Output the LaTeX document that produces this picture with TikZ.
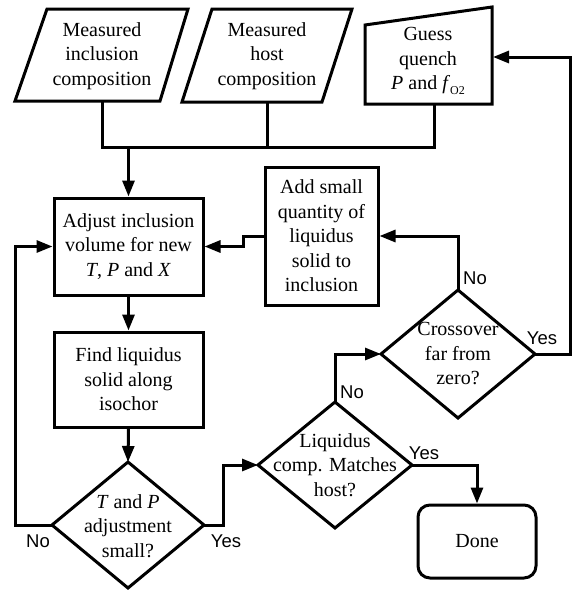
\documentclass[tikz,border=0pt]{standalone}
\usepackage{fontspec}
\setmainfont{Liberation Serif}
\newfontfamily\labelfont{Liberation Sans}
\usetikzlibrary{arrows.meta}
\begin{document}
\begin{tikzpicture}[x=1pt,y=-1pt, line width=3pt, line join=miter,
  txt/.style={align=center, font=\fontsize{20}{24.5}\selectfont, inner sep=0pt},
  box/.style={draw, line width=3pt, align=center, font=\fontsize{20}{24.5}\selectfont, inner sep=0pt},
  lbl/.style={font=\labelfont\fontsize{18.5}{20}\selectfont, inner sep=0pt},
  shp/.style={draw, line width=3pt},
  conn/.style={draw, line width=3pt},
  arr/.style={conn, -{Triangle[length=16pt,width=12pt]}}]
\useasboundingbox (0,0) rectangle (572,590);

% input shapes
\draw[shp] (47,9) -- (188,9) -- (160,101) -- (15,101) -- cycle;
\node[txt] (meas1) at (102,56) {Measured\\inclusion\\composition};
\draw[shp] (212,9) -- (352,9) -- (322,102) -- (182,102) -- cycle;
\node[txt] (meas2) at (267,56) {Measured\\host\\composition};
\draw[shp] (365,25) -- (492,7) -- (492,104) -- (365,104) -- cycle;
\node[txt] (guess) at (428,61) {Guess\\quench\\\textit{P} and \textit{f}\raisebox{-0.5ex}{\fontsize{12}{12}\selectfont O2}};

% process boxes
\node[box, minimum width=149pt, minimum height=97pt] (adj) at (128.5,246.5) {Adjust inclusion\\volume for new\\\textit{T}, \textit{P} and \textit{X}};
\node[box, minimum width=149pt, minimum height=95pt] (find) at (128.5,379.5) {Find liquidus\\solid along\\isochor};
\node[box, minimum width=113pt, minimum height=138pt] (add) at (321.5,236) {Add small\\quantity of\\liquidus\\solid to\\inclusion};
\node[box, rounded corners=12pt, minimum width=118pt, minimum height=73pt] (done) at (477,541.5) {Done};

% decisions
\draw[shp] (128,462) -- (204,525) -- (128,588) -- (52,525) -- cycle;
\node[txt] (d1) at (128,526) {\textit{T} and \textit{P}\\adjustment\\small?};
\draw[shp] (335,402) -- (412,465) -- (335,528) -- (258,465) -- cycle;
\node[txt] (d2) at (335,465) {Liquidus\\comp. Matches\\host?};
\draw[shp] (458,290) -- (535,354) -- (458,418) -- (381,354) -- cycle;
\node[txt] (d3) at (458,354) {Crossover\\far from\\zero?};

% named points
\coordinate (p1b) at (102,101);
\coordinate (p2b) at (267,102);
\coordinate (gb) at (434,104);
\coordinate (gr) at (493,57);
\coordinate (jl) at (102,147);
\coordinate (jp) at (267,147);
\coordinate (jr) at (434,147);
\coordinate (jm) at (128.5,147);
\coordinate (d1n) at (128,462);
\coordinate (d1w) at (52,525);
\coordinate (d1e) at (204,525);
\coordinate (d2n) at (335,402);
\coordinate (d2w) at (258,465);
\coordinate (d2e) at (412,465);
\coordinate (d3n) at (458,290);
\coordinate (d3w) at (381,354);
\coordinate (d3e) at (535,354);

% connectors
\draw[conn] (p1b) -- (jl) -- (jr) -- (gb);
\draw[conn] (p2b) -- (jp);
\draw[arr] (jm) -- (adj.north);
\draw[arr] (adj.south) -- (find.north);
\draw[arr] (find.south) -- (d1n);
\draw[arr] (d1w) -- ++(-37,0) |- (adj.west);
\draw[arr] (d1e) -- ++(19,0) |- (d2w);
\draw[arr] (d2e) -| (done.north);
\draw[arr] (d2n) |- (d3w);
\draw[arr] (d3n) |- (add.east);
\draw[arr] (d3e) -- ++(35,0) |- (gr);
\draw[arr] (add.west) -- ++(-20,0) |- (adj.east);

% labels
\node[lbl] at (38,541) {No};
\node[lbl] at (226,541) {Yes};
\node[lbl] at (424,453) {Yes};
\node[lbl] at (352,392) {No};
\node[lbl] at (475,278) {No};
\node[lbl] at (542,338) {Yes};
\end{tikzpicture}
\end{document}
